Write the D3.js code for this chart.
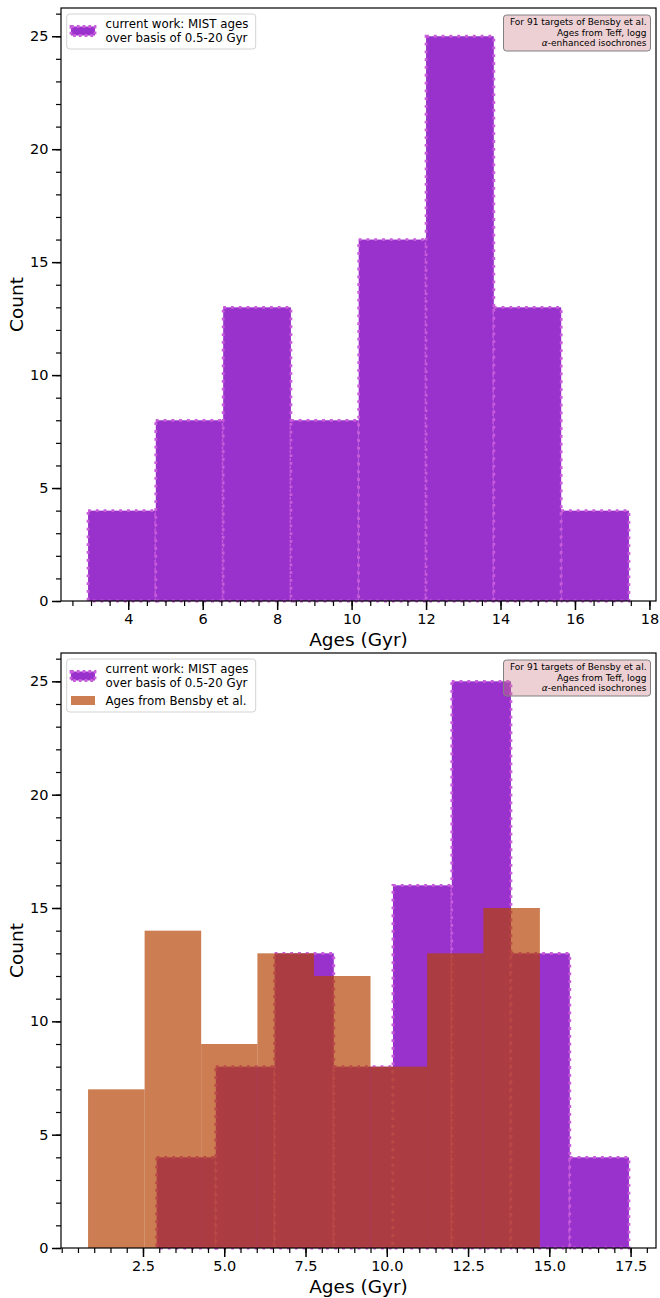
<!DOCTYPE html>
<html>
<head>
<meta charset="utf-8">
<script src="https://cdn.jsdelivr.net/npm/d3@7"></script>
<style>
  body { margin: 0; background: #fff; }
  svg { display: block; font-family: "DejaVu Sans", sans-serif; }
</style>
</head>
<body>
<svg id="chart" width="660" height="1298"></svg>
<script>
// --- data ---
// MIST ages histogram (8 bins)
const mistEdges = [2.92, 4.74, 6.55, 8.37, 10.19, 12.00, 13.82, 15.63, 17.45];
const mistCounts = [4, 8, 13, 8, 16, 25, 13, 4];
// Bensby et al. ages histogram (8 bins)
const bensbyEdges = [0.81, 2.55, 4.29, 6.02, 7.76, 9.50, 11.24, 12.97, 14.71];
const bensbyCounts = [7, 14, 9, 13, 12, 8, 13, 15];

const topXTicks = [4, 6, 8, 10, 12, 14, 16, 18];
const bottomXTicks = [2.5, 5.0, 7.5, 10.0, 12.5, 15.0, 17.5];
const countTicks = [0, 5, 10, 15, 20, 25];

const mistLabel = ["current work: MIST ages", "over basis of 0.5-20 Gyr"];
const bensbyLabel = ["Ages from Bensby et al."];
const noteLines = ["For 91 targets of Bensby et al.", "Ages from Teff, logg", "α-enhanced isochrones"];

// --- styles ---
const PURPLE = '#9932cc';
const PURPLE_EDGE = '#c85cda';
const ORANGE = '#b44100';
const ORANGE_ALPHA = 0.68;

const svg = d3.select('#chart');
const LEFT = 61, RIGHT = 656;

const mist = { edges: mistEdges, counts: mistCounts, kind: 'mist' };
const bensby = { edges: bensbyEdges, counts: bensbyCounts, kind: 'bensby' };

function drawBars(g, s, x, y) {
    const bins = s.counts.map((c, i) => ({ x0: s.edges[i], x1: s.edges[i + 1], c }));
    const r = g.append('g').selectAll('rect')
        .data(bins)
        .enter().append('rect')
        .attr('x', d => x(d.x0))
        .attr('width', d => x(d.x1) - x(d.x0))
        .attr('y', d => y(d.c))
        .attr('height', d => y(0) - y(d.c));
    if (s.kind === 'mist') {
        r.attr('fill', PURPLE)
            .attr('stroke', PURPLE_EDGE)
            .attr('stroke-width', 2.8)
            .attr('stroke-dasharray', '2.8,5');
    } else {
        r.attr('fill', ORANGE).attr('fill-opacity', ORANGE_ALPHA);
    }
}

function drawPanel(top, bottom, series, xTicks, xFmt) {
    const g = svg.append('g');

    // matplotlib-style 5% margins
    const allEdges = series.flatMap(s => s.edges);
    const [lo, hi] = d3.extent(allEdges);
    const pad = (hi - lo) * 0.05;
    const x = d3.scaleLinear().domain([lo - pad, hi + pad]).range([LEFT, RIGHT]);
    const yMax = d3.max(series.flatMap(s => s.counts)) * 1.05;
    const y = d3.scaleLinear().domain([0, yMax]).range([bottom, top]);

    series.forEach(s => drawBars(g, s, x, y));

    // minor ticks
    const xMinor = d3.range(Math.ceil(x.domain()[0] * 2) / 2, x.domain()[1], 0.5);
    const yMinor = d3.range(0, yMax, 1);
    g.append('g')
        .attr('transform', `translate(0,${bottom})`)
        .call(d3.axisBottom(x).tickValues(xMinor).tickSize(5).tickFormat(''))
        .call(a => a.select('.domain').remove())
        .selectAll('line').attr('stroke-width', 1.2);
    g.append('g')
        .attr('transform', `translate(${LEFT},0)`)
        .call(d3.axisLeft(y).tickValues(yMinor).tickSize(5).tickFormat(''))
        .call(a => a.select('.domain').remove())
        .selectAll('line').attr('stroke-width', 1.2);

    // major ticks
    const xa = g.append('g')
        .attr('transform', `translate(0,${bottom})`)
        .call(d3.axisBottom(x).tickValues(xTicks).tickSize(9).tickPadding(3.5).tickFormat(xFmt))
        .call(a => a.select('.domain').remove());
    xa.selectAll('line').attr('stroke-width', 1.5);
    xa.selectAll('text').style('font-size', '14.5px').attr('fill', '#000')
        .style('font-family', '"DejaVu Sans", sans-serif');

    const ya = g.append('g')
        .attr('transform', `translate(${LEFT},0)`)
        .call(d3.axisLeft(y).tickValues(countTicks).tickSize(9).tickPadding(3.5))
        .call(a => a.select('.domain').remove());
    ya.selectAll('line').attr('stroke-width', 1.5);
    ya.selectAll('text').style('font-size', '14.5px').attr('fill', '#000')
        .style('font-family', '"DejaVu Sans", sans-serif');

    // frame
    g.append('rect')
        .attr('x', LEFT).attr('y', top)
        .attr('width', RIGHT - LEFT).attr('height', bottom - top)
        .attr('fill', 'none').attr('stroke', '#000').attr('stroke-width', 1.2);

    // axis labels
    g.append('text')
        .attr('x', (LEFT + RIGHT) / 2).attr('y', bottom + 45)
        .attr('text-anchor', 'middle')
        .style('font-size', '18.5px')
        .text('Ages (Gyr)');
    g.append('text')
        .attr('transform', `translate(23,${(top + bottom) / 2}) rotate(-90)`)
        .attr('text-anchor', 'middle')
        .style('font-size', '18.5px')
        .text('Count');

    // legend
    const lg = g.append('g').attr('transform', `translate(0,${top})`);
    const legendH = series.length > 1 ? 53 : 35;
    lg.append('rect')
        .attr('x', 66.7).attr('y', 6).attr('width', 189).attr('height', legendH)
        .attr('rx', 3)
        .attr('fill', '#fff').attr('fill-opacity', 0.8)
        .attr('stroke', '#d3d3d3').attr('stroke-width', 1);
    lg.append('rect')
        .attr('x', 71).attr('y', 23 - 4.5).attr('width', 24).attr('height', 9)
        .attr('fill', PURPLE).attr('stroke', PURPLE_EDGE)
        .attr('stroke-width', 2.8).attr('stroke-dasharray', '2.8,3');
    lg.append('text')
        .style('font-size', '11.8px')
        .selectAll('tspan').data(mistLabel).enter().append('tspan')
        .attr('x', 105.5).attr('y', (d, i) => 20.3 + i * 13.5)
        .text(d => d);
    if (series.length > 1) {
        lg.append('rect')
            .attr('x', 71).attr('y', 47.5 - 4.5).attr('width', 24).attr('height', 9)
            .attr('fill', ORANGE).attr('fill-opacity', ORANGE_ALPHA);
        lg.append('text')
            .attr('x', 105.5).attr('y', 52)
            .style('font-size', '11.8px')
            .text(bensbyLabel[0]);
    }

    // annotation box
    const nb = g.append('g').attr('transform', `translate(0,${top})`);
    nb.append('rect')
        .attr('x', 503.5).attr('y', 7).attr('width', 147).attr('height', 36)
        .attr('rx', 3)
        .attr('fill', '#c87882').attr('fill-opacity', 0.35)
        .attr('stroke', '#808080').attr('stroke-width', 1);
    const nt = nb.append('text')
        .attr('text-anchor', 'end')
        .style('font-size', '9px');
    noteLines.forEach((line, i) => {
        const t = nt.append('tspan').attr('x', 646.5).attr('y', 17.2 + i * 10.3);
        if (line.startsWith('α')) {
            t.append('tspan').style('font-style', 'italic').text('α');
            t.append('tspan').text(line.slice(1));
        } else {
            t.text(line);
        }
    });
}

drawPanel(8, 601, [mist], topXTicks, d3.format('d'));
drawPanel(653, 1248, [mist, bensby], bottomXTicks, d3.format('.1f'));
</script>
</body>
</html>
